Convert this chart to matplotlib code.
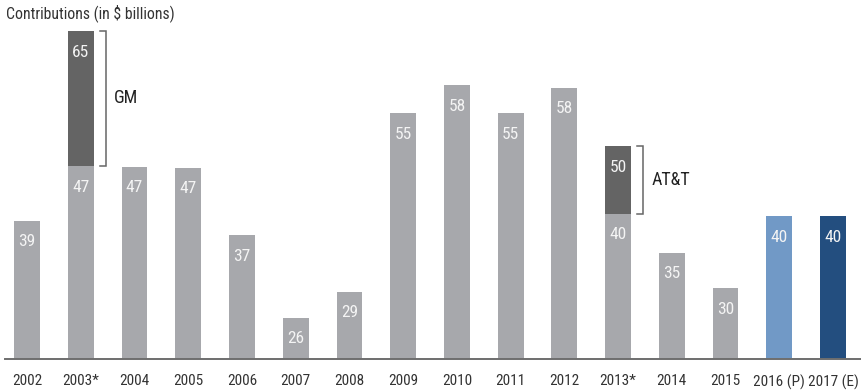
import matplotlib
matplotlib.use("Agg")
import matplotlib.pyplot as plt
from matplotlib import font_manager

avail = {f.name for f in font_manager.fontManager.ttflist}
cands = ['Roboto Condensed', 'Liberation Sans Narrow', 'Roboto', 'DejaVu Sans']
fam = [c for c in cands if c in avail]
plt.rcParams['font.family'] = fam
plt.rcParams['font.weight'] = 'normal'

years = ["2002", "2003*", "2004", "2005", "2006", "2007", "2008", "2009",
         "2010", "2011", "2012", "2013*", "2014", "2015", "2016 (P)", "2017 (E)"]
# base bar heights and displayed labels
base_heights = [39.2, 46.6, 46.5, 46.4, 37.2, 26.0, 29.5, 53.8,
                57.6, 53.8, 57.2, 40.1, 34.8, 30.0, 39.8, 39.8]
base_labels = ["39", "47", "47", "47", "37", "26", "29", "55",
               "58", "55", "58", "40", "35", "30", "40", "40"]
# one-off extras stacked on top
extra_idx = [1, 11]
extra_top = [65.0, 49.3]
extra_labels = ["65", "50"]
extra_names = ["GM", "AT&T"]

gray = "#a7a8ac"
dark = "#646464"
light_blue = "#7199c6"
dark_blue = "#234e7f"
colors = [gray] * 14 + [light_blue, dark_blue]

W, H = 861, 392
fig = plt.figure(figsize=(W / 100, H / 100), dpi=100)
base_px = 359
ax = fig.add_axes([5 / W, (H - base_px) / H, 1 - 5 / W, base_px / H])
ymin = 20.4
ymax = ymin + base_px / 7.36
ax.set_xlim(-0.41, 15.52)
ax.set_ylim(ymin, ymax)

x = list(range(len(years)))
bw = 0.48
ax.bar(x, [h - ymin for h in base_heights], bottom=ymin, width=bw, color=colors, zorder=2)
for i, (h, lab) in enumerate(zip(base_heights, base_labels)):
    ax.annotate(lab, (i, h), xytext=(0, -15), textcoords="offset points",
                ha="center", va="center", color="#f4f4f4", fontsize=12.5)

for i, top, lab, name in zip(extra_idx, extra_top, extra_labels, extra_names):
    b = base_heights[i]
    ax.bar(i, top - b, bottom=b, width=bw, color=dark, zorder=2)
    ax.annotate(lab, (i, top), xytext=(0, -15.5), textcoords="offset points",
                ha="center", va="center", color="#f4f4f4", fontsize=12.5)
    bx = i + 0.47
    tick = 0.11
    ax.plot([bx - tick, bx, bx, bx - tick], [top, top, b, b], color="#666666",
            lw=1.1, solid_joinstyle="miter", zorder=3)
    ax.text(bx + 0.15, (top + b) / 2, name,
            ha="left", va="center", fontsize=13, color="#222222")

for s in ["top", "right", "left"]:
    ax.spines[s].set_visible(False)
ax.spines["bottom"].set_color("#6e6e6e")
ax.spines["bottom"].set_linewidth(1.4)
ax.set_yticks([])
ax.set_xticks(x)
ax.set_xticklabels(years, fontsize=11, color="#333333")
ax.tick_params(axis="x", length=0, pad=11)

fig.text(6 / W, 1 - 13 / H, "Contributions (in $ billions)", ha="left", va="center",
         fontsize=11.3, color="#333333")

fig.savefig("out.png", dpi=100)
